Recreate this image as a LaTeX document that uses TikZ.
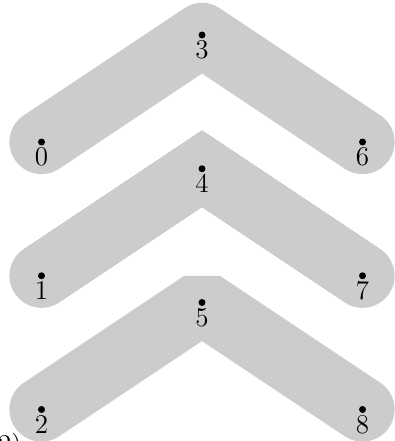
\documentclass[tikz,border=0pt]{standalone}
\usetikzlibrary{positioning}
\definecolor{Band}{gray}{0.8}

\begin{document}
\begin{tikzpicture}[x=1cm,y=1cm,
    dot/.style={circle,fill=black,inner sep=0pt,minimum size=3.7pt},
    band/.style={line width=1.2cm,Band,line cap=round},
    every label/.style={font=\Large,inner sep=1pt}]
    \useasboundingbox (-0.776,-5.589) rectangle (6.607,2.654);
    % three chevrons, one per row, each with its own join
    \foreach \r/\j in {0/round,1/miter,2/bevel} {
      \pgfmathtruncatemacro\m{\r+3}
      \pgfmathtruncatemacro\e{\r+6}
      \coordinate (c\r) at (0,-2.5*\r);
      \coordinate (c\m) at (3,2-2.5*\r);
      \coordinate (c\e) at (6,-2.5*\r);
      \draw[band,line join=\j] (c\r) -- (c\m) -- (c\e);
    }
    \foreach \i in {0,...,8}
      \node[dot,label=below:$\i$] (v\i) at (c\i) {};
    \node[anchor=north east,inner sep=0pt,font=\Large] (tag) at (-0.364,-5.439) {2)};
  \end{tikzpicture}
\end{document}
